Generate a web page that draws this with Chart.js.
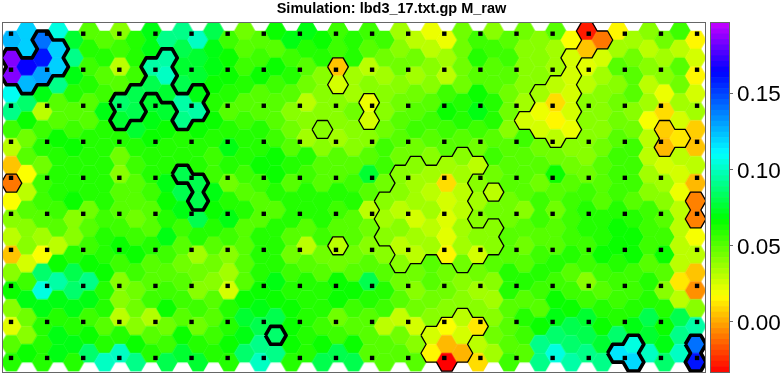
<!DOCTYPE html>
<html>
<head>
<meta charset="utf-8">
<script src="https://cdn.jsdelivr.net/npm/chart.js@4"></script>
<style>
  html, body { margin: 0; padding: 0; background: #fff; overflow: hidden; }
  canvas { position: absolute; top: 0; }
</style>
</head>
<body>
<canvas id="map" width="783" height="374" style="left:0"></canvas>
<canvas id="bar" width="78" height="374" style="left:705px"></canvas>
<script>
var chartTitle = 'Simulation: lbd3_17.txt.gp M_raw';

// codebook values, one list per hex column, top row first
var hexColumns = [
  [.125,.185,.185,.108,.09,.055,.03,.005,-.01,.017,.04,.03,.005,.04,.065,.04,.022,.05,.06],
  [.12,.12,.165,.125,.085,.065,.045,.05,.017,.03,.05,.04,.04,.025,.055,.07,.045,.04,.065],
  [.14,.16,.13,.07,.03,.055,.06,.045,.055,.055,.05,.035,.017,.085,.105,.07,.06,.06,.06],
  [.105,.12,.12,.09,.05,.05,.065,.06,.06,.06,.055,.05,.03,.065,.095,.07,.06,.07,.07],
  [.075,.09,.07,.06,.05,.055,.065,.06,.06,.065,.04,.04,.06,.08,.085,.07,.06,.07,.06],
  [.05,.06,.055,.06,.05,.05,.06,.06,.06,.06,.045,.05,.055,.065,.09,.07,.055,.065,.085],
  [.05,.06,.05,.055,.07,.06,.06,.06,.06,.06,.055,.06,.06,.065,.06,.06,.05,.06,.1],
  [.04,.055,.03,.05,.085,.075,.06,.045,.04,.05,.05,.055,.065,.055,.04,.04,.03,.06,.1],
  [.06,.06,.055,.08,.08,.075,.06,.055,.05,.05,.045,.055,.065,.055,.045,.045,.04,.065,.09],
  [.07,.07,.095,.08,.075,.07,.065,.06,.06,.055,.05,.05,.06,.05,.05,.055,.032,.05,.06],
  [.09,.095,.1,.075,.075,.065,.06,.06,.07,.065,.06,.07,.055,.05,.055,.065,.045,.055,.08],
  [.09,.08,.075,.08,.095,.09,.06,.06,.08,.08,.07,.055,.05,.045,.05,.055,.05,.065,.075],
  [.1,.075,.075,.07,.095,.065,.06,.06,.08,.08,.08,.06,.035,.045,.04,.055,.045,.06,.075],
  [.08,.07,.07,.065,.06,.065,.06,.055,.055,.07,.065,.06,.05,.045,.04,.05,.05,.055,.06],
  [.055,.065,.065,.06,.05,.06,.07,.06,.045,.06,.07,.055,.04,.035,.025,.06,.06,.065,.06],
  [.045,.05,.055,.06,.05,.055,.06,.06,.055,.05,.06,.05,.05,.05,.05,.065,.075,.07,.085],
  [.05,.055,.065,.05,.05,.06,.06,.065,.055,.05,.05,.06,.06,.06,.065,.07,.08,.09,.1],
  [.065,.05,.065,.055,.05,.05,.055,.065,.065,.06,.05,.06,.06,.06,.07,.065,.08,.085,.09],
  [.07,.055,.06,.05,.04,.045,.05,.06,.05,.06,.06,.05,.045,.055,.06,.065,.065,.065,.06],
  [.07,.06,.05,.045,.03,.04,.035,.06,.055,.06,.06,.05,.03,.05,.06,.06,.06,.06,.06],
  [.065,.06,.04,.04,.04,.04,.04,.05,.05,.06,.06,.055,.045,.05,.06,.06,.055,.065,.08],
  [.055,.055,.005,.025,.04,.04,.035,.05,.05,.06,.055,.05,.03,.045,.065,.065,.045,.055,.08],
  [.06,.06,.035,.035,.045,.04,.04,.05,.055,.06,.05,.05,.045,.05,.065,.055,.05,.065,.08],
  [.055,.05,.03,.04,.02,.025,.04,.05,.075,.05,.03,.045,.04,.05,.08,.06,.05,.05,.05],
  [.055,.045,.035,.04,.04,.045,.055,.055,.045,.04,.035,.04,.04,.05,.06,.055,.03,.05,.05],
  [.035,.04,.045,.04,.045,.05,.05,.045,.04,.04,.03,.04,.03,.04,.045,.05,.028,.045,.05],
  [.03,.045,.035,.045,.05,.055,.045,.04,.035,.035,.025,.035,.03,.045,.04,.045,.025,.04,.05],
  [.02,.03,.04,.04,.05,.055,.05,.04,.035,.03,.035,.03,.035,.05,.05,.045,.04,.025,.015],
  [.02,.035,.03,.055,.065,.055,.05,.035,.01,.025,.023,.022,.015,.045,.045,.04,.017,.003,-.033],
  [.045,.045,.045,.045,.06,.06,.05,.04,.035,.03,.03,.035,.035,.045,.04,.04,.03,.025,.002],
  [.055,.06,.05,.065,.07,.055,.045,.03,.04,.035,.04,.04,.025,.045,.035,.04,.012,.03,.01],
  [.04,.055,.05,.05,.06,.06,.05,.055,.045,.03,.045,.04,.04,.05,.04,.035,.04,.045,.035],
  [.05,.055,.05,.045,.045,.04,.05,.05,.05,.045,.045,.05,.05,.06,.06,.05,.05,.05,.055],
  [.045,.04,.04,.04,.035,.025,.055,.05,.05,.05,.04,.05,.045,.05,.06,.05,.06,.055,.05],
  [.04,.04,.04,.035,.02,.025,.045,.05,.045,.055,.055,.05,.055,.06,.055,.05,.065,.09,.09],
  [.05,.035,.035,.03,.01,.015,.03,.045,.065,.05,.045,.05,.05,.06,.055,.065,.07,.085,.105],
  [.017,.025,.025,.025,.025,.02,.04,.045,.05,.055,.055,.055,.06,.05,.055,.065,.08,.085,.095],
  [-.028,.005,.022,.03,.04,.04,.04,.04,.045,.055,.06,.06,.055,.055,.04,.055,.075,.08,.09],
  [-.01,.025,.035,.04,.04,.04,.045,.05,.05,.05,.06,.06,.065,.055,.05,.06,.065,.075,.09],
  [.015,.035,.05,.04,.045,.045,.05,.055,.055,.055,.06,.065,.065,.06,.055,.055,.06,.085,.115],
  [.035,.045,.05,.05,.04,.045,.055,.055,.055,.05,.06,.065,.065,.055,.055,.06,.07,.105,.118],
  [.04,.03,.04,.03,.035,.018,.03,.03,.035,.04,.055,.055,.055,.05,.06,.06,.08,.075,.1],
  [.045,.035,.04,.02,.01,.007,.003,.025,.035,.04,.05,.055,.065,.05,.04,.06,.065,.07,.085],
  [.055,.03,.05,.045,.035,.025,.012,.03,.025,.02,.03,.03,.03,.03,.012,.03,.08,.09,.1],
  [.015,.025,.015,.025,.035,.007,.005,.03,.003,-.008,-.008,.018,.03,.005,-.005,.04,.095,.14,.16]
];

// outlined clusters as [column, row] cells
var boldClusters = [
  [[0,1],[0,2],[1,2],[1,3],[2,0],[2,1],[2,2],[3,1],[3,2]],
  [[7,4],[7,5],[8,3],[8,4],[9,2],[9,3],[10,1],[10,2],[10,3],[11,4],[11,5],[12,3],[12,4]],
  [[11,8],[12,8],[12,9]],
  [[17,17]],
  [[39,18],[40,17],[40,18]],
  [[44,17],[44,18]]
];
var thinClusters = [
  [[0,8]],
  [[21,2],[21,3]],
  [[23,4],[23,5]],
  [[20,5]],
  [[21,12]],
  [[31,9]],
  [[24,9],[24,10],[24,11],
   [25,8],[25,9],[25,10],[25,11],[25,12],[25,13],
   [26,7],[26,8],[26,9],[26,10],[26,11],[26,12],
   [27,8],[27,9],[27,10],[27,11],[27,12],
   [28,7],[28,8],[28,9],[28,10],[28,11],[28,12],
   [29,7],[29,8],[29,9],[29,10],[29,11],[29,12],[29,13],
   [30,7],[30,11],[30,12],[31,11],[31,12]],
  [[27,17],[27,18],[28,16],[28,17],[28,18],[29,16],[29,17],[29,18],[30,16]],
  [[33,5],[34,3],[34,4],[34,5],[35,3],[35,4],[35,5],[35,6],
   [36,1],[36,2],[36,3],[36,4],[36,5],[37,0],[37,1],[38,0]],
  [[42,5],[42,6],[43,6]],
  [[44,9],[44,10]]
];

var dotColumns = [1,2,3,4,5,6,7,8,9,10,11,12,13,14,15,16,17,18,19,20];
var dotRows = [1,2,3,4,5,6,7,8,9,10];

var barTicks = [0, 0.05, 0.10, 0.15];
var barMin = -0.033, barMax = 0.196, barLevels = 64;

// colour key stops: value, hue
var keyValues = [-0.033, 0.0165, 0.067, 0.11, 0.164, 0.196];
var keyHues = [0, 60, 120, 180, 240, 287];

function valueColor(v) {
  v = Math.max(barMin, Math.min(barMax, v));
  var i = 0;
  while (i < keyValues.length - 2 && v > keyValues[i + 1]) i++;
  var t = (v - keyValues[i]) / (keyValues[i + 1] - keyValues[i]);
  return 'hsl(' + (keyHues[i] + t * (keyHues[i + 1] - keyHues[i])).toFixed(1) + ',100%,50%)';
}

// rowOf: odd columns sit half a row above even ones
function rowOf(col, row) { return col % 2 ? row : row + 0.5; }

var hexCache = {};
function hexImage(color) {
  if (hexCache[color]) return hexCache[color];
  var c = document.createElement('canvas');
  c.width = 24; c.height = 22;
  var g = c.getContext('2d'), r = 10.75;
  g.fillStyle = color;
  g.beginPath();
  for (var i = 0; i < 6; i++) {
    var a = i * Math.PI / 3;
    g.lineTo(12 + r * Math.cos(a), 11 + r * Math.sin(a));
  }
  g.closePath();
  g.fill();
  hexCache[color] = c;
  return c;
}

// walks the outer edges of a set of hex cells into closed loops
var corners = [[-2,0],[-1,-1],[1,-1],[2,0],[1,1],[-1,1]]; // thirds of a column, halves of a row
function clusterLoops(cells) {
  var edges = {};
  cells.forEach(function (cell) {
    var cx = cell[0] * 3, cy = rowOf(cell[0], cell[1]) * 2;
    for (var i = 0; i < 6; i++) {
      var a = corners[i], b = corners[(i + 1) % 6];
      var from = (cx + a[0]) + ',' + (cy + a[1]), to = (cx + b[0]) + ',' + (cy + b[1]);
      if (edges[to] && edges[to].indexOf(from) >= 0) {
        edges[to].splice(edges[to].indexOf(from), 1);
      } else {
        (edges[from] = edges[from] || []).push(to);
      }
    }
  });
  var loops = [];
  Object.keys(edges).forEach(function (start) {
    while (edges[start].length) {
      var loop = [], at = start;
      do {
        var p = at.split(',');
        loop.push({ x: p[0] / 3, y: p[1] / 2 });
        at = edges[at].pop();
      } while (at !== start);
      loop.push(loop[0]);
      loops.push(loop);
    }
  });
  return loops;
}

function outlineDatasets(clusters, width) {
  var out = [];
  clusters.forEach(function (cells) {
    clusterLoops(cells).forEach(function (loop) {
      out.push({
        data: loop, showLine: true, pointRadius: 0, borderColor: '#000', borderWidth: width,
        borderJoinStyle: 'round', tension: 0, clip: 0, order: 1, xAxisID: 'x', yAxisID: 'y'
      });
    });
  });
  return out;
}

var hexPoints = [], hexStyles = [];
hexColumns.forEach(function (rows, col) {
  rows.forEach(function (v, row) {
    hexPoints.push({ x: col, y: rowOf(col, row) });
    hexStyles.push(hexImage(valueColor(v)));
  });
});

var dotPoints = [];
dotRows.forEach(function (j) {
  dotColumns.forEach(function (i) { dotPoints.push({ x: i, y: j }); });
});

var hiddenScale = function (min, max, reverse) {
  return { type: 'linear', display: false, min: min, max: max, reverse: !!reverse };
};
// invisible axis that only reserves room beside the plot
var spacerScale = function (min, max, side, room) {
  return {
    type: 'linear', position: side, min: min, max: max, reverse: true,
    grid: { display: false }, border: { display: false }, ticks: { display: false },
    afterFit: function (s) { s.width = room; s.paddingTop = 0; s.paddingBottom = 0; }
  };
};

new Chart(document.getElementById('map'), {
  type: 'scatter',
  data: {
    datasets: [
      { data: dotPoints, pointStyle: 'rect', pointRadius: 3.1, pointBackgroundColor: '#000', pointBorderWidth: 0,
        xAxisID: 'xDots', yAxisID: 'yDots', order: 0 },
      { data: hexPoints, pointStyle: hexStyles, pointRadius: 10, pointBorderWidth: 0, clip: 0, order: 2,
        xAxisID: 'x', yAxisID: 'y' }
    ].concat(outlineDatasets(boldClusters, 3.6), outlineDatasets(thinClusters, 1.3))
  },
  options: {
    animation: false,
    responsive: false,
    events: [],
    layout: { autoPadding: false, padding: { left: 0, right: 0, top: 0, bottom: 2 } },
    plugins: {
      legend: { display: false },
      tooltip: { enabled: false },
      title: {
        display: true,
        text: chartTitle,
        color: '#000',
        font: { family: '"Liberation Sans"', size: 14.5, weight: 'bold' },
        padding: { top: 0, bottom: 5.6 }
      }
    },
    scales: {
      x: hiddenScale(-0.54, 44.6),
      y: spacerScale(-0.447, 19.05, 'left', 3),
      xDots: hiddenScale(0.778, 20.22),
      yDots: spacerScale(0.703, 10.39, 'right', 78)
    }
  },
  plugins: [{
    id: 'frame',
    afterDatasetsDraw: function (chart) {
      var a = chart.chartArea, ctx = chart.ctx;
      ctx.save();
      ctx.strokeStyle = '#666';
      ctx.lineWidth = 1;
      ctx.strokeRect(a.left - 0.5, a.top - 0.5, a.right - a.left + 1, a.bottom - a.top + 1);
      ctx.restore();
    }
  }]
});

var barSets = [];
for (var i = 0; i < barLevels; i++) {
  var lo = barMin + (barMax - barMin) * i / barLevels;
  var hi = barMin + (barMax - barMin) * (i + 1) / barLevels;
  barSets.push({
    data: [[lo, hi]], backgroundColor: valueColor((lo + hi) / 2),
    barPercentage: 1, categoryPercentage: 1, borderWidth: 0, grouped: false
  });
}

new Chart(document.getElementById('bar'), {
  type: 'bar',
  data: { labels: ['M_raw'], datasets: barSets },
  options: {
    animation: false,
    responsive: false,
    events: [],
    layout: { autoPadding: false, padding: { left: 6, right: 0, top: 23, bottom: 2 } },
    plugins: { legend: { display: false }, tooltip: { enabled: false } },
    scales: {
      x: { display: false },
      y: {
        position: 'right',
        min: barMin,
        max: barMax,
        afterBuildTicks: function (s) { s.ticks = barTicks.map(function (v) { return { value: v }; }); },
        afterFit: function (s) { s.width = 54; s.paddingTop = 0; s.paddingBottom = 0; },
        grid: { drawOnChartArea: false, color: '#666', tickLength: 4 },
        border: { color: '#666' },
        ticks: {
          padding: 4,
          autoSkip: false,
          color: '#000',
          labelOffset: 2,
          font: { family: '"Liberation Sans"', size: 22.5 },
          callback: function (v) { return v.toFixed(2); }
        }
      }
    }
  },
  plugins: [{
    id: 'barFrame',
    afterDraw: function (chart) {
      var a = chart.chartArea, ctx = chart.ctx;
      ctx.save();
      ctx.strokeStyle = '#666';
      ctx.lineWidth = 1;
      ctx.strokeRect(a.left - 0.5, a.top - 0.5, a.right - a.left + 1, a.bottom - a.top + 1);
      ctx.restore();
    }
  }]
});
</script>
</body>
</html>
